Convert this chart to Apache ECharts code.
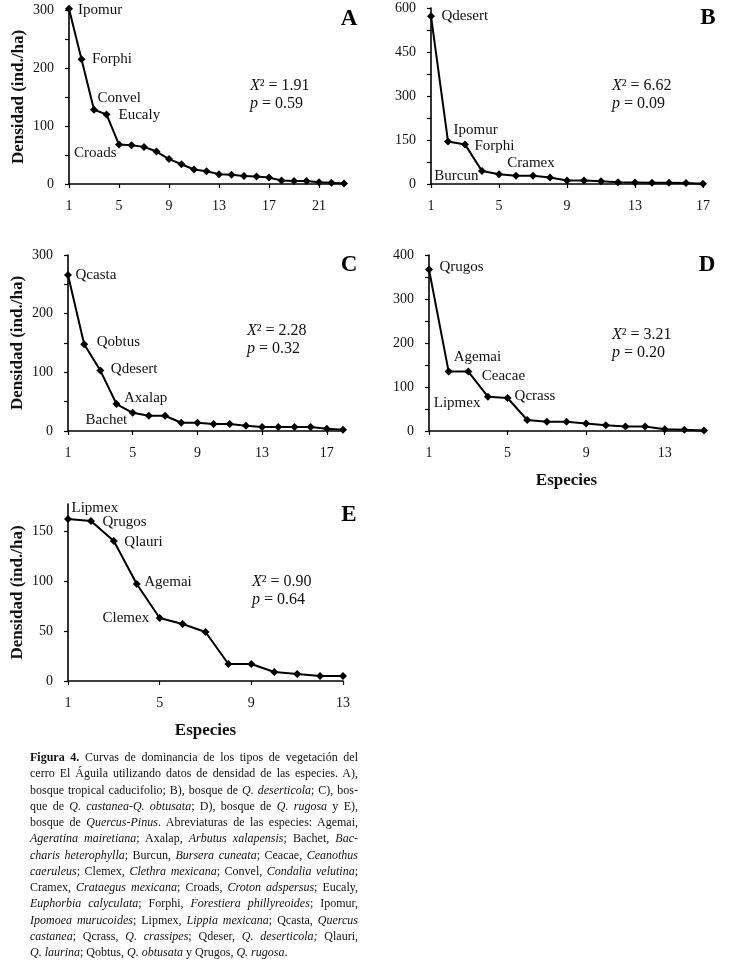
<!DOCTYPE html>
<html><head><meta charset="utf-8">
<script src="https://cdn.jsdelivr.net/npm/echarts@6/dist/echarts.min.js"></script>
<style>
html,body{margin:0;padding:0;background:#fff;}
#chart{position:absolute;left:0;top:0;width:743px;height:963px;}
#caption{position:absolute;left:30px;top:749px;width:328px;font-family:'Liberation Serif','Times New Roman',serif;font-size:12px;line-height:16.25px;color:#111;}
#caption div{text-align:justify;text-align-last:justify;white-space:nowrap;}
#caption div.last{text-align-last:left;}
</style></head>
<body>
<div id="chart"></div>
<div id="caption">
<div><b>Figura 4.</b> Curvas de dominancia de los tipos de vegetación del</div>
<div>cerro El Águila utilizando datos de densidad de las especies. A),</div>
<div>bosque tropical caducifolio; B), bosque de <i>Q. deserticola</i>; C), bos-</div>
<div>que de <i>Q. castanea-Q. obtusata</i>; D), bosque de <i>Q. rugosa</i> y E),</div>
<div>bosque de <i>Quercus-Pinus</i>. Abreviaturas de las especies: Agemai,</div>
<div><i>Ageratina mairetiana</i>; Axalap, <i>Arbutus xalapensis</i>; Bachet, <i>Bac-</i></div>
<div><i>charis heterophylla</i>; Burcun, <i>Bursera cuneata</i>; Ceacae, <i>Ceanothus</i></div>
<div><i>caeruleus</i>; Clemex, <i>Clethra mexicana</i>; Convel, <i>Condalia velutina</i>;</div>
<div>Cramex, <i>Crataegus mexicana</i>; Croads, <i>Croton adspersus</i>; Eucaly,</div>
<div><i>Euphorbia calyculata</i>; Forphi, <i>Forestiera phillyreoides</i>; Ipomur,</div>
<div><i>Ipomoea murucoides</i>; Lipmex, <i>Lippia mexicana</i>; Qcasta, <i>Quercus</i></div>
<div><i>castanea</i>; Qcrass, <i>Q. crassipes</i>; Qdeser, <i>Q. deserticola;</i> Qlauri,</div>
<div class="last"><i>Q. laurina</i>; Qobtus, <i>Q. obtusata</i> y Qrugos, <i>Q. rugosa</i>.</div>
</div>
<script>
// ---- data ----
const valuesA = [302, 215, 128, 120, 68, 67, 64, 56, 43, 34, 25, 22, 17, 16, 14, 13, 11, 6, 5, 5, 3, 2, 1];
const valuesB = [572, 145, 135, 44, 33, 28, 28, 22, 12, 12, 9, 6, 5, 4, 4, 3, 1];
const valuesC = [266, 148, 103, 46, 31, 26, 26, 14, 14, 12, 12, 9, 7, 7, 7, 7, 4, 2];
const valuesD = [367, 135, 135, 78, 75, 25, 21, 21, 17, 13, 10, 10, 4, 3, 1];
const valuesE = [162, 160, 140, 97, 63, 57, 49, 17, 17, 9, 7, 5, 5];

const namesA = ['Ipomur', 'Forphi', 'Convel', 'Eucaly', 'Croads'];
const ranksA = [1, 2, 3, 4, 5];
const namesB = ['Qdesert', 'Ipomur', 'Forphi', 'Burcun', 'Cramex'];
const ranksB = [1, 2, 3, 4, 7];
const namesC = ['Qcasta', 'Qobtus', 'Qdesert', 'Axalap', 'Bachet'];
const ranksC = [1, 2, 3, 4, 5];
const namesD = ['Qrugos', 'Agemai', 'Ceacae', 'Lipmex', 'Qcrass'];
const ranksD = [1, 2, 3, 4, 5];
const namesE = ['Lipmex', 'Qrugos', 'Qlauri', 'Agemai', 'Clemex'];
const ranksE = [1, 2, 3, 4, 5];

const chiA = '1.91', pA = '0.59';
const chiB = '6.62', pB = '0.09';
const chiC = '2.28', pC = '0.32';
const chiD = '3.21', pD = '0.20';
const chiE = '0.90', pE = '0.64';

const yTicksE = [0, 50, 100, 150];

// ---- layout / style ----
const FONT = "'Liberation Serif','Times New Roman',serif";
const panels = [
  {letter:'A', values:valuesA, names:namesA, ranks:ranksA, chi:chiA, p:pA,
   grid:{left:69, top:10, width:275, height:174}, max:300, interval:100, yName:true, xName:false,
   lab:[['right',0,1],['right',1.5,0],['right',-5.5,-12],['right',3,1],['left',6.5,9]],
   stat:[250,78], letterPos:[349,19]},
  {letter:'B', values:valuesB, names:namesB, ranks:ranksB, chi:chiB, p:pB,
   grid:{left:431, top:8, width:272, height:176}, max:600, interval:150, yName:false, xName:false,
   lab:[['right',1.5,0],['right',-3.5,-11.5],['right',0.5,1.5],['left',5.5,5],['top',-2,4]],
   stat:[612,78], letterPos:[708,18]},
  {letter:'C', values:valuesC, names:namesC, ranks:ranksC, chi:chiC, p:pC,
   grid:{left:68, top:255, width:275, height:176}, max:300, interval:100, yName:true, xName:false,
   lab:[['right',-1.5,0],['right',3.5,-2],['right',1.5,-1.5],['right',-1.5,-6],['left',3.5,7]],
   stat:[247,323], letterPos:[349,265]},
  {letter:'D', values:valuesD, names:namesD, ranks:ranksD, chi:chiD, p:pD,
   grid:{left:429, top:255, width:275, height:176}, max:400, interval:100, yName:false, xName:true,
   lab:[['right',1.5,-2.5],['right',-4,-14.5],['right',4.5,4.5],['left',1.5,6],['right',-2,-2]],
   stat:[612,327], letterPos:[707,265]},
  {letter:'E', values:valuesE, names:namesE, ranks:ranksE, chi:chiE, p:pE,
   grid:{left:68, top:504, width:275, height:177}, max:177, interval:50, yName:true, xName:true, yCustom:yTicksE,
   lab:[['right',-5.5,-11],['right',2.5,1],['right',1.5,1],['right',-1.5,-2],['left',-1.5,0]],
   stat:[252,574], letterPos:[349,515]}
];

const grids = [], xAxes = [], yAxes = [], series = [], graphics = [];
panels.forEach((pn, k) => {
  grids.push(Object.assign({containLabel:false}, pn.grid));
  const cats = pn.values.map((_, i) => String(i + 1));
  xAxes.push({
    type:'category', gridIndex:k, data:cats, boundaryGap:false,
    axisLine:{lineStyle:{color:'#000', width:1.6}},
    axisTick:{show:true, interval:3, length:4, lineStyle:{color:'#000', width:1.2}},
    axisLabel:{interval:3, color:'#111', fontFamily:FONT, fontSize:14, margin:15},
    splitLine:{show:false},
    name: pn.xName ? 'Especies' : '', nameLocation:'middle', nameGap:41,
    nameTextStyle:{color:'#111', fontFamily:FONT, fontSize:17, fontWeight:'bold'}
  });
  const yAx = {
    type:'value', gridIndex:k, min:0, max:pn.max, interval:pn.interval,
    axisLine:{show:true, lineStyle:{color:'#000', width:1.6}},
    axisTick:{show:true, length:4, lineStyle:{color:'#000', width:1.2}},
    minorTick:{show:!pn.yCustom, splitNumber:2, length:4, lineStyle:{color:'#000', width:1.2}},
    axisLabel:{color:'#111', fontFamily:FONT, fontSize:14, margin:15},
    splitLine:{show:false},
    name: pn.yName ? 'Densidad (ind./ha)' : '', nameLocation:'middle', nameGap:42,
    nameTextStyle:{color:'#111', fontFamily:FONT, fontSize:17, fontWeight:'bold'}
  };
  if (pn.yCustom) {
    yAx.axisLabel.customValues = pn.yCustom;
    yAx.axisTick.customValues = pn.yCustom;
  }
  yAxes.push(yAx);
  const data = pn.values.map((v, i) => {
    const j = pn.ranks.indexOf(i + 1);
    if (j < 0) return v;
    const L = pn.lab[j];
    return {value:v, label:{show:true, formatter:pn.names[j], position:L[0], offset:[L[1], L[2]], distance:5,
      color:'#111', fontFamily:FONT, fontSize:15}};
  });
  series.push({
    type:'line', xAxisIndex:k, yAxisIndex:k, data:data, clip:false,
    symbol:'diamond', symbolSize:8, showAllSymbol:true,
    lineStyle:{color:'#000', width:2}, itemStyle:{color:'#000'},
    label:{show:false}, animation:false, silent:true
  });
  graphics.push({
    type:'text', left:pn.stat[0], top:pn.stat[1],
    style:{text:'{i|X}{n|² = ' + pn.chi + '}\n{i|p}{n| = ' + pn.p + '}',
      rich:{i:{fontStyle:'italic', fontFamily:FONT, fontSize:16, fill:'#111', lineHeight:18},
            n:{fontFamily:FONT, fontSize:16, fill:'#111', lineHeight:18}}}
  });
  graphics.push({
    type:'text', x:pn.letterPos[0], y:pn.letterPos[1],
    style:{text:pn.letter, fontFamily:FONT, fontSize:23, fontWeight:'bold', fill:'#000',
      align:'center', verticalAlign:'middle'}
  });
});

const chart = echarts.init(document.getElementById('chart'), null, {renderer:'canvas'});
chart.setOption({
  backgroundColor:'#fff', animation:false,
  grid:grids, xAxis:xAxes, yAxis:yAxes, series:series, graphic:graphics
});
</script>
</body></html>
